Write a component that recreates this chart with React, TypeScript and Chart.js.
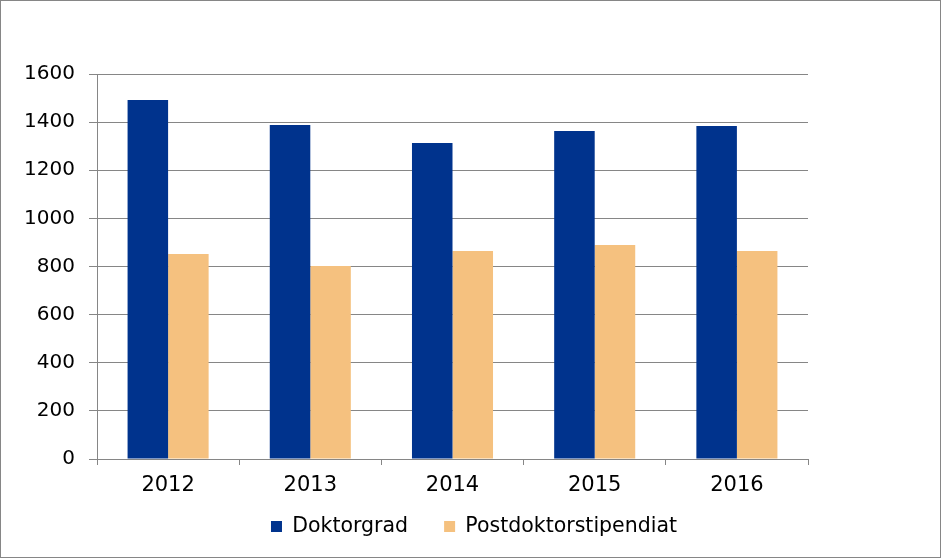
import React, { useEffect, useRef } from "react";
import { Chart, registerables } from "chart.js";

Chart.register(...registerables);

const categories = ["2012", "2013", "2014", "2015", "2016"];
const doktorgrad = [1492, 1388, 1313, 1363, 1384];
const postdoktor = [852, 802, 864, 889, 864];
const yTicks = [0, 200, 400, 600, 800, 1000, 1200, 1400, 1600];

const GRID = "#868686";
const FONT = "'DejaVu Sans', Verdana, sans-serif";
const LEGEND_FONT = 20.5;
const LEGEND_PAD = 36;
const LEGEND_CENTER_Y = 525.5;

const legendPlacer = {
  id: "legendPlacer",
  afterLayout(chart: any) {
    const lg = chart.legend;
    if (lg) {
      const h = lg.height;
      lg.left = 7;
      lg.right = chart.width;
      lg.width = chart.width - 7;
      lg.top = LEGEND_CENTER_Y - LEGEND_PAD - LEGEND_FONT / 2;
      lg.bottom = lg.top + h;
    }
    const x = chart.scales.x;
    if (x) x.bottom = chart.height;
  },
};

export default function App() {
  const ref = useRef<HTMLCanvasElement | null>(null);

  useEffect(() => {
    document.body.style.margin = "0";
    const ctx = ref.current!;
    const chart = new Chart(ctx, {
      type: "bar",
      data: {
        labels: categories,
        datasets: [
          {
            label: "Doktorgrad",
            data: doktorgrad,
            backgroundColor: "#00338D",
            categoryPercentage: 0.57,
            barPercentage: 1,
          },
          {
            label: "Postdoktorstipendiat",
            data: postdoktor,
            backgroundColor: "#F5C17F",
            categoryPercentage: 0.57,
            barPercentage: 1,
          },
        ],
      },
      plugins: [legendPlacer],
      options: {
        animation: false,
        responsive: false,
        maintainAspectRatio: false,
        layout: { padding: { top: 73, right: 132, left: 0, bottom: 0 } },
        plugins: {
          tooltip: { enabled: false },
          legend: {
            position: "bottom",
            labels: {
              boxWidth: 11,
              boxHeight: 11,
              padding: LEGEND_PAD,
              color: "#000",
              font: { family: FONT, size: LEGEND_FONT },
            },
          },
        },
        scales: {
          x: {
            grid: {
              display: true,
              offset: true,
              drawOnChartArea: false,
              drawTicks: true,
              tickLength: 6,
              color: GRID,
            },
            border: { display: true, color: GRID },
            ticks: {
              color: "#000",
              padding: 8,
              font: { family: FONT, size: 21 },
              maxRotation: 0,
            },
            afterFit: (s: any) => {
              s.height = 31.5;
            },
          },
          y: {
            min: 0,
            max: 1600,
            afterBuildTicks: (s: any) => {
              s.ticks = yTicks.map((v) => ({ value: v }));
            },
            grid: {
              color: GRID,
              tickLength: 8,
              drawTicks: true,
            },
            border: { display: true, color: GRID },
            ticks: {
              color: "#000",
              padding: 14,
              font: { family: FONT, size: 20 },
              callback: (v: any) => String(v),
            },
            afterFit: (s: any) => {
              s.width = 96;
            },
          },
        },
      },
    });
    return () => chart.destroy();
  }, []);

  return (
    <div
      style={{
        position: "absolute",
        left: 0,
        top: 0,
        width: 941,
        height: 558,
        border: "1px solid #868686",
        boxSizing: "border-box",
        background: "#fff",
      }}
    >
      <canvas ref={ref} width={939} height={556} style={{ display: "block" }} />
    </div>
  );
}
